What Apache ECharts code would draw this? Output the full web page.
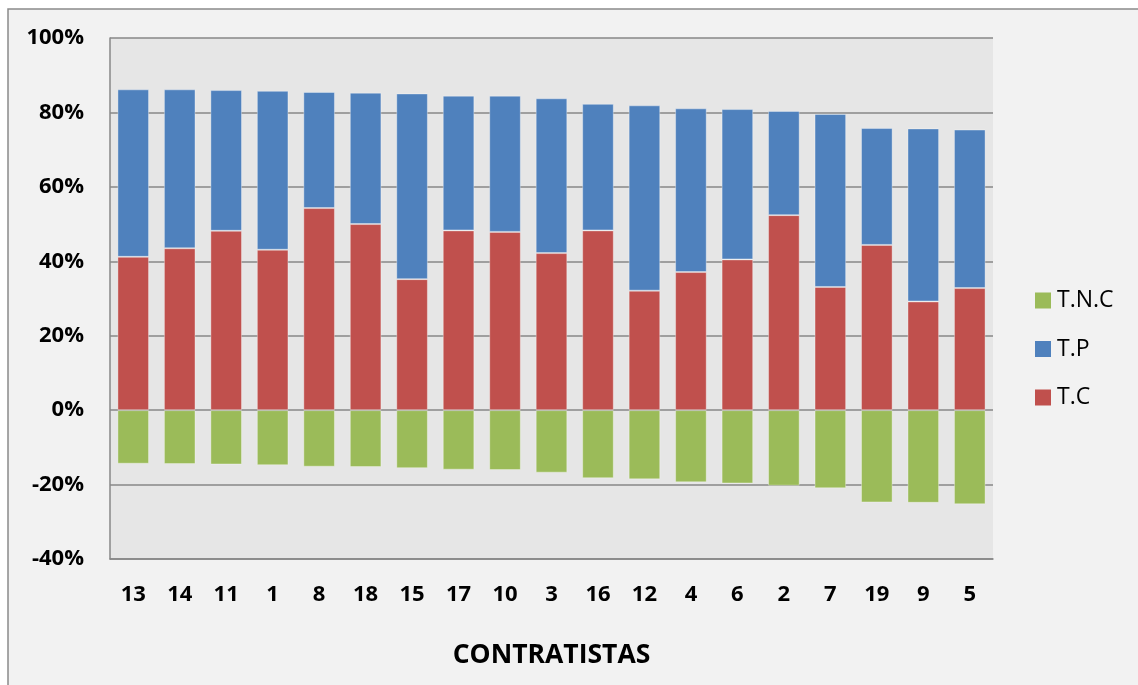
<!DOCTYPE html>
<html>
<head>
<meta charset="utf-8">
<script src="https://cdn.jsdelivr.net/npm/echarts@6/dist/echarts.min.js"></script>
<style>
  html, body { margin: 0; padding: 0; background: #ffffff; }
  #chart { width: 1138px; height: 685px; }
</style>
</head>
<body>
<div id="chart"></div>
<script>
// Contractors, ordered by total share
const categories = ['13', '14', '11', '1', '8', '18', '15', '17', '10', '3', '16', '12', '4', '6', '2', '7', '19', '9', '5'];
// T.C share (%)
const tcValues = [41.2, 43.5, 48.2, 43.1, 54.3, 50.0, 35.2, 48.3, 47.9, 42.2, 48.3, 32.1, 37.1, 40.5, 52.4, 33.1, 44.4, 29.2, 32.8];
// T.P share (%), stacked above T.C
const tpValues = [45.0, 42.7, 37.8, 42.7, 31.2, 35.3, 49.9, 36.2, 36.6, 41.6, 34.0, 49.8, 44.0, 40.4, 28.0, 46.5, 31.4, 46.5, 42.6];
// T.N.C share (%), drawn below zero
const tncValues = [-14.4, -14.5, -14.6, -14.8, -15.2, -15.3, -15.6, -16.0, -16.1, -16.8, -18.3, -18.6, -19.4, -19.7, -20.3, -21.0, -24.8, -24.9, -25.3];
// Value axis range and step (%)
const yMin = -40, yMax = 100, yStep = 20;

const FONT = '"Open Sans", "Noto Sans", sans-serif';
const GRID_COLOR = '#878787';

const chart = echarts.init(document.getElementById('chart'), null, { renderer: 'canvas' });

const barStyle = (color) => ({
  color: color,
  borderColor: 'rgba(255,255,255,0.35)',
  borderWidth: 1
});

chart.setOption({
  backgroundColor: '#ffffff',
  animation: false,
  graphic: [{
    type: 'rect',
    z: -10,
    silent: true,
    shape: { x: 8, y: 9, width: 1140, height: 690 },
    style: { fill: '#f2f2f2', stroke: '#8a8a8a', lineWidth: 1.5 }
  }],
  grid: {
    left: 110,
    right: 145,
    top: 38,
    bottom: 126,
    outerBoundsMode: 'none',
    show: true,
    backgroundColor: '#e6e6e6',
    borderWidth: 0
  },
  legend: {
    orient: 'vertical',
    left: 1030,
    top: 284,
    data: ['T.N.C', 'T.P', 'T.C'],
    icon: 'rect',
    itemWidth: 16,
    itemHeight: 16,
    itemGap: 25.5,
    itemTextGap: 5,
    itemStyle: { borderWidth: 0 },
    textStyle: { fontFamily: FONT, fontSize: 23, color: '#000000', padding: [0, 0, 0, 1] }
  },
  xAxis: {
    type: 'category',
    data: categories,
    name: 'CONTRATISTAS',
    nameLocation: 'middle',
    nameGap: 83,
    nameTextStyle: { fontFamily: FONT, fontSize: 26.5, fontWeight: 'bold', color: '#000000' },
    axisLine: { onZero: false, show: true, lineStyle: { color: GRID_COLOR, width: 1.5 } },
    axisTick: { show: false },
    axisLabel: { fontFamily: FONT, fontSize: 22, fontWeight: 'bold', color: '#000000', margin: 25, interval: 0 }
  },
  yAxis: {
    type: 'value',
    min: yMin,
    max: yMax,
    interval: yStep,
    axisLine: { show: true, lineStyle: { color: GRID_COLOR, width: 1.5 } },
    axisTick: { show: false },
    splitLine: { show: true, lineStyle: { color: GRID_COLOR, width: 1.5 } },
    axisLabel: { fontFamily: FONT, fontSize: 22, fontWeight: 'bold', color: '#000000', margin: 26, formatter: '{value}%' }
  },
  series: [
    {
      name: 'T.C', type: 'bar', stack: 'share', data: tcValues,
      barCategoryGap: '32%', itemStyle: barStyle('#c0504d')
    },
    {
      name: 'T.P', type: 'bar', stack: 'share', data: tpValues,
      barCategoryGap: '32%', itemStyle: barStyle('#4f81bd')
    },
    {
      name: 'T.N.C', type: 'bar', stack: 'share', data: tncValues,
      barCategoryGap: '32%', itemStyle: barStyle('#9bbb59')
    }
  ]
});
</script>
</body>
</html>
